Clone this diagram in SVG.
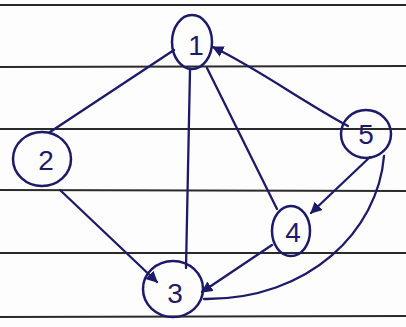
<svg xmlns="http://www.w3.org/2000/svg" width="406" height="327" viewBox="0 0 406 327">
<style>
.rule{stroke:#2a2a2a;stroke-width:2;fill:none}
.node{fill:none;stroke:#1c1a6a;stroke-width:2.5}
.lbl{font-family:"Liberation Sans",sans-serif;font-size:28px;fill:#1c1a6a;text-anchor:middle}
.e{fill:none;stroke:#1c1a6a;stroke-width:2.3;stroke-linecap:round}
</style>
<defs>
<marker id="ah" viewBox="0 0 10 10" refX="9" refY="5" markerWidth="5" markerHeight="5" orient="auto">
<path d="M0,0 L10,5 L0,10 z" fill="#1c1a6a"/>
</marker>
</defs>
<rect width="406" height="327" fill="#fdfdfd"/>
<g id="rules">
<line class="rule" x1="0" y1="5" x2="406" y2="5"/>
<line class="rule" x1="0" y1="67" x2="406" y2="66"/>
<line class="rule" x1="0" y1="129" x2="406" y2="129"/>
<line class="rule" x1="0" y1="190" x2="406" y2="191"/>
<line class="rule" x1="0" y1="253" x2="406" y2="253"/>
<line class="rule" x1="0" y1="317" x2="406" y2="316"/>
</g>
<g id="connectors">
<path class="e" d="M174,50 L50,132"/>
<path class="e" d="M190,70 L186,268"/>
<path class="e" d="M207,68 L277,209"/>
<path class="e" d="M348,126 C300,100 260,70 213,47" marker-end="url(#ah)"/>
<path class="e" d="M370,157 L311,213" marker-end="url(#ah)"/>
<path class="e" d="M272,245 L202,292" marker-end="url(#ah)"/>
<path class="e" d="M60,190 L157,282" marker-end="url(#ah)"/>
<path class="e" d="M384,156 C378,230 310,300 204,299"/>
</g>
<g id="node1"><ellipse class="node" cx="192" cy="42" rx="20" ry="27"/><text class="lbl" x="196" y="55">1</text></g>
<g id="node2"><ellipse class="node" cx="42" cy="159" rx="29" ry="27"/><text class="lbl" x="46" y="170">2</text></g>
<g id="node3"><ellipse class="node" cx="173" cy="289" rx="30" ry="28"/><text class="lbl" x="175" y="303">3</text></g>
<g id="node4"><ellipse class="node" cx="291" cy="231" rx="19" ry="25"/><text class="lbl" x="293" y="242">4</text></g>
<g id="node5"><ellipse class="node" cx="366" cy="134" rx="25" ry="24"/><text class="lbl" x="366" y="144">5</text></g>
</svg>
